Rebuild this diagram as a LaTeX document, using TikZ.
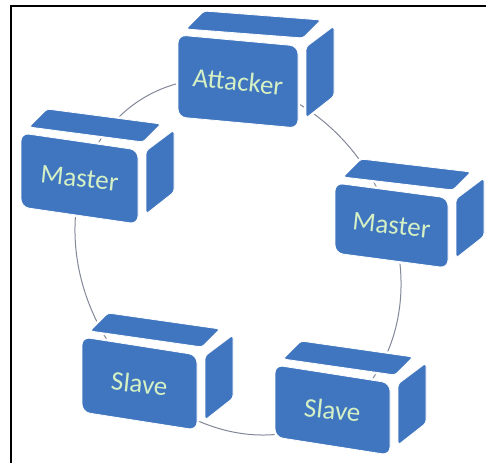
\documentclass[tikz,border=0pt]{standalone}
\usepackage{fontspec}
\setmainfont{Carlito}
\usetikzlibrary{positioning}
\definecolor{boxblue}{RGB}{64,118,192}
\definecolor{labelgreen}{RGB}{212,240,196}
\definecolor{ringgray}{RGB}{130,136,152}
\tikzstyle{face} = [fill=boxblue, draw=white, line width=0.8pt, line join=round, preaction={draw=white, line width=4pt}]
\tikzstyle{boxtext} = [text=labelgreen, font=\fontsize{27}{30}\selectfont, rotate=-6, inner sep=0pt]
\tikzstyle{ring} = [draw=ringgray, line width=1pt]
\tikzstyle{edgeline} = [draw=black, line width=2pt]
% #1 name, #2 x, #3 y, #4 width, #5 height, #6 slant, #7 depth, #8 text
\newcommand{\cubebox}[8]{%
	\begin{scope}[shift={(#2,#3)}]
		\draw[face, rounded corners=3pt] (8,-6) -- (#4+5,#6-8) -- (#4+5+#7,#6-8-#7) -- (8+#7,-6-#7) -- cycle;
		\draw[face, rounded corners=3pt] (#4+8,#6+1) -- (#4+18+#7,#6-2-#7) -- (#4+18+#7,#6+#5-14-#7) -- (#4+8,#6+#5-10) -- cycle;
		\draw[face, rounded corners=8pt] (0,0) -- (#4,#6) -- (#4,#6+#5) -- (0,#5) -- cycle;
		\node[boxtext] (#1) at (#4/2,{(#6+#5)/2}) {#8};
	\end{scope}}

\begin{document}
\begin{tikzpicture}[x=1pt, y=-1pt]
		\useasboundingbox (0,0) rectangle (486,463);
		
		\coordinate (hub) at (238,257);
		\draw[ring, rotate around={-60:(hub)}] (hub) ellipse [x radius=185pt, y radius=155pt];
		
		\cubebox{attacker}{178}{35}{120}{82}{11}{18}{Attacker}
		\cubebox{masterL}{21}{133}{117}{74}{17}{18}{Master}
		\cubebox{masterR}{335}{183}{113}{70}{15}{18}{Master}
		\cubebox{slaveL}{82}{337}{115}{75}{18}{18}{Slave}
		\cubebox{slaveR}{275}{365}{115}{72}{18}{18}{Slave}
		
		\coordinate (corner) at (11,6);
		\draw[edgeline] (11,463) -- (corner) -- (486,6);
\end{tikzpicture}
\end{document}
